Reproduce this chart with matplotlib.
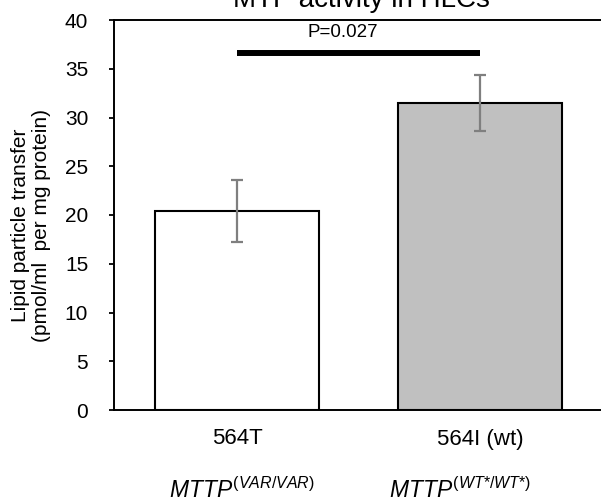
import matplotlib
matplotlib.use("Agg")
import matplotlib.pyplot as plt
import matplotlib.transforms as mtransforms

plt.rcParams["font.family"] = ["Liberation Sans", "DejaVu Sans"]
plt.rcParams["mathtext.fontset"] = "custom"
plt.rcParams["mathtext.rm"] = "Liberation Sans"
plt.rcParams["mathtext.it"] = "Liberation Sans:italic"

variants = ["564T", "564I (wt)"]
genotypes = [r"$\mathit{MTTP}^{\mathit{(VAR/VAR)}}$", r"$\mathit{MTTP}^{\mathit{(WT{*}/WT{*})}}$"]
transfer = [20.4, 31.5]
sem = [3.2, 2.9]
colors = ["white", "#c0c0c0"]
p_text = "P=0.027"
sig_level = 36.6

fig = plt.figure(figsize=(6.01, 4.99), dpi=100)
# axes run past the right edge of the figure, as in the cropped original
ax = fig.add_axes([114 / 601, 1 - 410 / 499, (608 - 114) / 601, (410 - 20) / 499])

x = [0, 1]
ax.bar(x, transfer, width=0.675, color=colors, edgecolor="black", linewidth=1.5, zorder=2)
ax.errorbar(x, transfer, yerr=sem, fmt="none", ecolor="#7f7f7f", elinewidth=1.6,
            capsize=4.5, capthick=1.6, zorder=3)

# significance bar
ax.plot(x, [sig_level, sig_level], color="black", linewidth=4.3, solid_capstyle="butt")
ax.text(0.436, 38.67, p_text, ha="center", va="center", fontsize=13.5)

ax.set_xlim(-0.506, 1.527)
ax.set_ylim(0, 40)
ax.set_yticks(range(0, 41, 5))
ax.tick_params(axis="y", labelsize=15, length=3.6, width=1.3, direction="out", pad=15)
ax.set_xticks([])
for side in ["left", "bottom", "top"]:
    ax.spines[side].set_linewidth(1.4)
ax.spines["right"].set_visible(False)

ax.set_ylabel("Lipid particle transfer\n(pmol/ml  per mg protein)", fontsize=15,
              linespacing=1.15)
ax.yaxis.set_label_coords(-0.1275, 0.474)

# category labels under the bars
trans = mtransforms.blended_transform_factory(ax.transData, fig.transFigure)
for xi, lab in zip(x, variants):
    ax.text(xi, 1 - 439 / 499, lab, transform=trans, ha="center", va="center", fontsize=16)
geno_x = [0.02, 0.918]
for xi, lab in zip(geno_x, genotypes):
    ax.text(xi, 1 - 498 / 499, lab, transform=trans, ha="center", va="baseline", fontsize=16.5)

fig.text(361 / 601, 1 - 7 / 499, "MTP activity in HLCs", ha="center", va="baseline", fontsize=20)

fig.savefig("out.png", dpi=100)
